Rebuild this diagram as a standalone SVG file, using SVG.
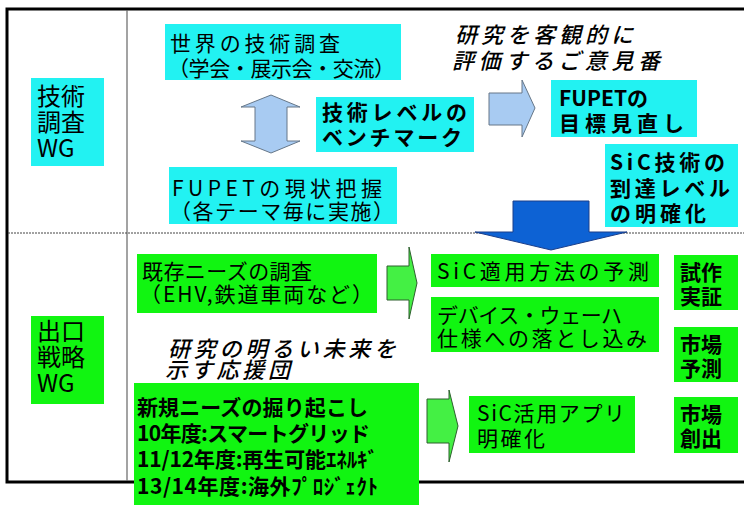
<svg xmlns="http://www.w3.org/2000/svg" width="744" height="505" viewBox="0 0 744 505">
<style>
text{font-family:"Noto Sans CJK JP","Noto Sans",sans-serif;fill:#000;}
.t{font-size:21px;}
.b{font-size:21px;font-weight:bold;}
.lab{font-size:24px;}
.it{font-size:22px;font-style:italic;font-weight:500;}
.cy{fill:#22f2f2;}
.gr{fill:#11f511;}
.lb{fill:#a8cbf2;stroke:#667788;stroke-width:1;}
.ga{fill:#44f044;stroke:#2d5f2d;stroke-width:1;}
</style>
<rect width="744" height="505" fill="#fff"/>
<g id="frame">
<path d="M744 9 H7 V482 H744" fill="none" stroke="#000" stroke-width="3"/>
<line x1="127" y1="10" x2="127" y2="481" stroke="#666" stroke-width="1.2"/>
<line x1="8" y1="233" x2="744" y2="233" stroke="#444" stroke-width="1" stroke-dasharray="2,1"/>
</g>
<g id="wg1"><rect class="cy" x="31" y="78" width="73" height="88"/>
<text class="lab" x="37" y="105">技術</text><text class="lab" x="37" y="131">調査</text><text class="lab" x="37" y="157">WG</text></g>
<g id="wg2"><rect class="gr" x="31" y="316" width="73" height="88"/>
<text class="lab" x="37" y="340">出口</text><text class="lab" x="37" y="366">戦略</text><text class="lab" x="37" y="392">WG</text></g>
<g id="connectors">
<polygon class="lb" points="271,95 300,107 287,107 287,141 300,141 271,153 241,141 255,141 255,107 241,107"/>
<polygon class="lb" points="489,93 522,93 522,80 535,108 522,137 522,125 489,125"/>
<polygon points="513,201 589,201 589,232 627,232 551,250 475,232 513,232" fill="#0d62d4" stroke="#1b3f8a" stroke-width="1"/>
<polygon class="ga" points="387,266 409,266 409,247 417,283 409,319 409,300 387,300"/>
<polygon class="ga" points="427,399 449,399 449,390 458,426 449,462 449,443 427,443"/>
</g>
<g id="n1"><rect class="cy" x="165" y="24" width="236" height="56"/>
<text class="t" x="170" y="51" textLength="170">世界の技術調査</text><text class="t" x="168" y="76" textLength="227">（学会・展示会・交流）</text></g>
<g id="n2"><rect class="cy" x="316" y="97" width="158" height="55"/>
<text class="b" x="322" y="120" textLength="145">技術レベルの</text><text class="b" x="322" y="145" textLength="140">ベンチマーク</text></g>
<g id="n3"><rect class="cy" x="169" y="167" width="228" height="57"/>
<text class="t" x="172" y="196" textLength="210">FUPETの現状把握</text><text class="t" x="170" y="219" textLength="224">（各テーマ毎に実施）</text></g>
<g id="n4"><rect class="cy" x="551" y="80" width="146" height="57"/>
<text class="b" x="559" y="106">FUPETの</text><text class="b" x="559" y="131" textLength="125">目標見直し</text></g>
<g id="n5"><rect class="cy" x="605" y="144" width="133" height="83"/>
<text class="b" x="610" y="170" textLength="115">SiC技術の</text><text class="b" x="610" y="196" textLength="120">到達レベル</text><text class="b" x="610" y="221" textLength="96">の明確化</text></g>
<g id="note1"><text class="it" x="455" y="43" textLength="178">研究を客観的に</text><text class="it" x="452" y="69" textLength="208">評価するご意見番</text></g>
<g id="n6"><rect class="gr" x="137" y="254" width="240" height="59"/>
<text class="t" x="142" y="279" textLength="170">既存ニーズの調査</text><text class="t" x="140" y="302" textLength="233">（EHV,鉄道車両など）</text></g>
<g id="note2"><text class="it" x="168" y="357" textLength="228">研究の明るい未来を</text><text class="it" x="165" y="378" textLength="125">示す応援団</text></g>
<g id="n7"><rect class="gr" x="134" y="383" width="285" height="122"/>
<text class="b" x="137" y="415" font-size="19" textLength="231">新規ニーズの掘り起こし</text>
<text class="b" x="137" y="441" font-size="19" textLength="233">10年度:スマートグリッド</text>
<text class="b" x="137" y="467" font-size="19" textLength="241">11/12年度:再生可能ｴﾈﾙｷﾞ</text>
<text class="b" x="137" y="494" font-size="19" textLength="241">13/14年度:海外ﾌﾟﾛｼﾞｪｸﾄ</text></g>
<g id="n8"><rect class="gr" x="431" y="254" width="228" height="33"/>
<text class="t" x="437" y="279" textLength="212">SiC適用方法の予測</text></g>
<g id="n9"><rect class="gr" x="431" y="297" width="228" height="55"/>
<text class="t" x="437" y="323" textLength="185">デバイス・ウェーハ</text><text class="t" x="437" y="346" textLength="210">仕様への落とし込み</text></g>
<g id="n10"><rect class="gr" x="469" y="396" width="166" height="57"/>
<text class="t" x="477" y="421" textLength="148">SiC活用アプリ</text><text class="t" x="477" y="446" textLength="68">明確化</text></g>
<g id="n11"><rect class="gr" x="674" y="255" width="64" height="55"/>
<text class="b" x="680" y="280">試作</text><text class="b" x="680" y="304">実証</text></g>
<g id="n12"><rect class="gr" x="674" y="327" width="64" height="55"/>
<text class="b" x="680" y="352">市場</text><text class="b" x="680" y="376">予測</text></g>
<g id="n13"><rect class="gr" x="674" y="397" width="64" height="56"/>
<text class="b" x="680" y="422">市場</text><text class="b" x="680" y="446">創出</text></g>
</svg>
